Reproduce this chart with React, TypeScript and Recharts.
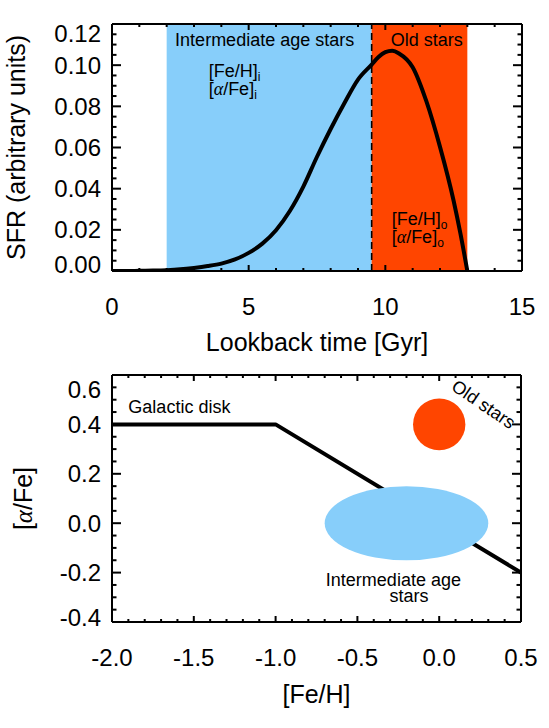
import React from "react"
import {
  ComposedChart,
  Line,
  XAxis,
  YAxis,
  ReferenceArea,
  ReferenceLine,
  ReferenceDot,
  Label,
} from "recharts"

const FONT = "'Liberation Sans', Arial, Helvetica, sans-serif"
const GREEK = "'Liberation Serif', 'DejaVu Serif', serif"
const SKY = "#87CEFA"
const ORANGE = "#FF4500"

// ---- top panel: star formation history ----
const lookback = [0, 0.5, 1, 1.5, 2, 2.5, 3, 3.5, 4, 4.5, 5, 5.5, 6, 6.5, 7, 7.5, 8, 8.5, 9, 9.5, 9.75, 10, 10.25, 10.5, 11, 11.5, 12, 12.5, 12.75, 13]
const sfr = [0, 0, 0.0001, 0.0002, 0.0004, 0.0008, 0.0015, 0.0024, 0.0036, 0.0056, 0.0088, 0.0133, 0.0198, 0.029, 0.041, 0.0555, 0.069, 0.0815, 0.093, 0.1003, 0.104, 0.1063, 0.107, 0.1057, 0.099, 0.0825, 0.0603, 0.034, 0.018, 0]

const intermediateAge = [2, 9.5]
const oldAge = [9.5, 13]

const timeMajor = [0, 5, 10, 15]
const timeTicks = [0, 1, 2, 3, 4, 5, 6, 7, 8, 9, 10, 11, 12, 13, 14, 15]
const sfrMajor = [0, 0.02, 0.04, 0.06, 0.08, 0.1, 0.12]
const sfrTicks = [0, 0.005, 0.01, 0.015, 0.02, 0.025, 0.03, 0.035, 0.04, 0.045, 0.05, 0.055, 0.06, 0.065, 0.07, 0.075, 0.08, 0.085, 0.09, 0.095, 0.1, 0.105, 0.11, 0.115, 0.12]

// ---- bottom panel: chemical track ----
const feH = [-2.0, -1.0, 0.5]
const alphaFe = [0.4, 0.4, -0.2]

// populations: centre and half widths in [Fe/H] / [alpha/Fe]
const oldStars = { fe: 0, alpha: 0.4, dFe: 0.16, dAlpha: 0.105 }
const midStars = { fe: -0.2, alpha: 0, dFe: 0.5, dAlpha: 0.15 }

const feMajor = [-2, -1.5, -1, -0.5, 0, 0.5]
const feTicks = [-2, -1.9, -1.8, -1.7, -1.6, -1.5, -1.4, -1.3, -1.2, -1.1, -1, -0.9, -0.8, -0.7, -0.6, -0.5, -0.4, -0.3, -0.2, -0.1, 0, 0.1, 0.2, 0.3, 0.4, 0.5]
const alphaMajor = [-0.4, -0.2, 0, 0.2, 0.4, 0.6]
const alphaTicks = [-0.4, -0.35, -0.3, -0.25, -0.2, -0.15, -0.1, -0.05, 0, 0.05, 0.1, 0.15, 0.2, 0.25, 0.3, 0.35, 0.4, 0.45, 0.5, 0.55, 0.6]

const sfrData = lookback.map((t, i) => ({ t, sfr: sfr[i] }))
const trackData = feH.map((fe, i) => ({ fe, alpha: alphaFe[i] }))

const isMajor = (majors: number[], v: number) => majors.some((m) => Math.abs(m - v) < 1e-9)

// tick labels only (marks are drawn as reference segments)
const makeLabel =
  (side: "bottom" | "left", majors: number[], digits: number, shift: Record<string, number> = {}) =>
  (p: any) => {
    const v = p.payload.value
    if (!isMajor(majors, v)) return <g />
    const s = v.toFixed(digits)
    const x = Number(p.x)
    const y = Number(p.y)
    if (side === "bottom")
      return (
        <text x={x} y={y + 44} textAnchor="middle" fontSize={24} fontFamily={FONT} fill="#000">
          {s}
        </text>
      )
    return (
      <text x={x - 11} y={y + (shift[s] || 0)} dy="0.36em" textAnchor="end" fontSize={24} fontFamily={FONT} fill="#000">
        {s}
      </text>
    )
  }

const xTitle = (text: React.ReactNode, fromBottom: number) => (p: any) => {
  const vb = p.viewBox
  return (
    <text x={vb.x + vb.width / 2} y={vb.y + vb.height - fromBottom} textAnchor="middle" fontSize={25} fontFamily={FONT} fill="#000">
      {text}
    </text>
  )
}

const yTitle = (text: React.ReactNode, baseX: number) => (p: any) => {
  const vb = p.viewBox
  const cy = vb.y + vb.height / 2
  return (
    <text x={baseX} y={cy} transform={`rotate(-90, ${baseX}, ${cy})`} textAnchor="middle" fontSize={25} fontFamily={FONT} fill="#000">
      {text}
    </text>
  )
}

// text placed relative to the label's viewBox origin
const note =
  (lines: React.ReactNode[], dx: number, dy: number, anchor: string = "start", angle = 0, gap = 18) =>
  (p: any) => {
    const vb = p.viewBox
    const x = vb.x + dx
    const y = vb.y + dy
    return (
      <g transform={angle ? `rotate(${angle}, ${x}, ${y})` : undefined}>
        {lines.map((ln, i) => (
          <text key={i} x={x} y={y + i * gap} textAnchor={anchor as any} fontSize={18} fontFamily={FONT} fill="#000">
            {ln}
          </text>
        ))}
      </g>
    )
  }

const ellipseShape = (fill: string) => (p: any) => (
  <ellipse cx={p.x + p.width / 2} cy={p.y + p.height / 2} rx={p.width / 2} ry={p.height / 2} fill={fill} />
)

const alpha = <tspan fontFamily={GREEK} fontStyle="italic">α</tspan>
const sub = (s: string) => (
  <tspan fontSize={12} dy={4}>
    {s}
  </tspan>
)

const box = { stroke: "#000", strokeWidth: 2 }

type FrameProps = {
  width: number
  height: number
  data: any[]
  xKey: string
  yKey: string
  xDomain: number[]
  yDomain: number[]
  xTicks: number[]
  xMajor: number[]
  yTicks: number[]
  yMajor: number[]
  xDigits: number
  yDigits: number
  yShift: Record<string, number>
  top: number
  bottom: number
  left: number
  right: number
  xLabel: React.ReactNode
  xLabelBottom: number
  yLabel: React.ReactNode
  yLabelX: number
}

// box, inward ticks on all four sides and axis titles, drawn over the data
function Frame(f: FrameProps) {
  const [x0, x1] = f.xDomain
  const [y0, y1] = f.yDomain
  // tick lengths in pixels turned into data units
  const xLen = (v: number) => ((isMajor(f.xMajor, v) ? 6 : 3) * (y1 - y0)) / (f.height - f.top - f.bottom)
  const yLen = (v: number) => ((isMajor(f.yMajor, v) ? 9 : 4.5) * (x1 - x0)) / (f.width - f.left - f.right)
  return (
    <ComposedChart
      width={f.width}
      height={f.height}
      data={f.data}
      margin={{ top: f.top, right: f.right, bottom: 0, left: 0 }}
      style={{ position: "absolute", left: 0, top: 0, pointerEvents: "none" }}
    >
      <XAxis dataKey={f.xKey} type="number" domain={f.xDomain} allowDataOverflow ticks={f.xTicks} interval={0} height={f.bottom} tickSize={0} tickMargin={0} tickLine={false} axisLine={box} tick={makeLabel("bottom", f.xMajor, f.xDigits)}>
        <Label content={xTitle(f.xLabel, f.xLabelBottom)} />
      </XAxis>
      <YAxis type="number" domain={f.yDomain} allowDataOverflow ticks={f.yTicks} interval={0} width={f.left} tickSize={0} tickMargin={0} tickLine={false} axisLine={box} tick={makeLabel("left", f.yMajor, f.yDigits, f.yShift)}>
        <Label content={yTitle(f.yLabel, f.yLabelX)} />
      </YAxis>
      <Line dataKey={f.yKey} stroke="none" dot={false} activeDot={false} isAnimationActive={false} />
      <ReferenceLine segment={[{ x: x0, y: y1 }, { x: x1, y: y1 }]} stroke="#000" strokeWidth={2} ifOverflow="visible" />
      <ReferenceLine segment={[{ x: x1, y: y0 }, { x: x1, y: y1 }]} stroke="#000" strokeWidth={2} ifOverflow="visible" />
      {f.xTicks.map((v) => (
        <ReferenceLine key={`xb${v}`} segment={[{ x: v, y: y0 }, { x: v, y: y0 + xLen(v) }]} stroke="#000" strokeWidth={2} ifOverflow="visible" />
      ))}
      {f.xTicks.map((v) => (
        <ReferenceLine key={`xt${v}`} segment={[{ x: v, y: y1 }, { x: v, y: y1 - xLen(v) }]} stroke="#000" strokeWidth={2} ifOverflow="visible" />
      ))}
      {f.yTicks.map((v) => (
        <ReferenceLine key={`yl${v}`} segment={[{ x: x0, y: v }, { x: x0 + yLen(v), y: v }]} stroke="#000" strokeWidth={2} ifOverflow="visible" />
      ))}
      {f.yTicks.map((v) => (
        <ReferenceLine key={`yr${v}`} segment={[{ x: x1, y: v }, { x: x1 - yLen(v), y: v }]} stroke="#000" strokeWidth={2} ifOverflow="visible" />
      ))}
    </ComposedChart>
  )
}

function SfrPanel() {
  const W = 549
  const H = 360
  return (
    <div style={{ position: "relative", width: W, height: H }}>
      <ComposedChart width={W} height={H} data={sfrData} margin={{ top: 24, right: 27, bottom: 0, left: 0 }} style={{ position: "absolute", left: 0, top: 0 }}>
        <XAxis dataKey="t" type="number" domain={[0, 15]} allowDataOverflow height={89} tick={false} tickLine={false} axisLine={false} />
        <YAxis type="number" domain={[0, 0.12]} allowDataOverflow width={112} tick={false} tickLine={false} axisLine={false} />
        <ReferenceArea
          x1={intermediateAge[0]}
          x2={intermediateAge[1]}
          fill={SKY}
          fillOpacity={1}
          stroke="none"
          label={{
            content: (p: any) => (
              <g>
                {note(["Intermediate age stars"], 98, 22, "middle")(p)}
                {note(
                  [
                    <>[Fe/H]{sub("i")}</>,
                    <>[{alpha}/Fe]{sub("i")}</>,
                  ],
                  42,
                  53
                )(p)}
              </g>
            ),
          }}
        />
        <ReferenceArea
          x1={oldAge[0]}
          x2={oldAge[1]}
          fill={ORANGE}
          fillOpacity={1}
          stroke="none"
          label={{
            content: (p: any) => (
              <g>
                {note(["Old stars"], 55, 22, "middle")(p)}
                {note(
                  [
                    <>[Fe/H]{sub("o")}</>,
                    <>[{alpha}/Fe]{sub("o")}</>,
                  ],
                  20,
                  201
                )(p)}
              </g>
            ),
          }}
        />
        <ReferenceLine x={oldAge[0]} stroke="#000" strokeWidth={1.6} strokeDasharray="7 4" />
        <Line type="monotone" dataKey="sfr" stroke="#000" strokeWidth={4} dot={false} activeDot={false} isAnimationActive={false} />
      </ComposedChart>
      <Frame
        width={W}
        height={H}
        data={sfrData}
        xKey="t"
        yKey="sfr"
        xDomain={[0, 15]}
        yDomain={[0, 0.12]}
        xTicks={timeTicks}
        xMajor={timeMajor}
        yTicks={sfrTicks}
        yMajor={sfrMajor}
        xDigits={0}
        yDigits={2}
        yShift={{ "0.12": 9, "0.00": -7 }}
        top={24}
        bottom={89}
        left={112}
        right={27}
        xLabel="Lookback time [Gyr]"
        xLabelBottom={9}
        yLabel="SFR (arbitrary units)"
        yLabelX={25}
      />
    </div>
  )
}

function TrackPanel() {
  const W = 549
  const H = 368
  return (
    <div style={{ position: "relative", width: W, height: H }}>
      <ComposedChart width={W} height={H} data={trackData} margin={{ top: 15, right: 28, bottom: 0, left: 0 }} style={{ position: "absolute", left: 0, top: 0 }}>
        <XAxis dataKey="fe" type="number" domain={[-2, 0.5]} allowDataOverflow height={106} tick={false} tickLine={false} axisLine={false} />
        <YAxis type="number" domain={[-0.4, 0.6]} allowDataOverflow width={112} tick={false} tickLine={false} axisLine={false} />
        <Line type="linear" dataKey="alpha" stroke="#000" strokeWidth={4} strokeLinejoin="round" dot={false} activeDot={false} isAnimationActive={false} />
        <ReferenceArea
          x1={midStars.fe - midStars.dFe}
          x2={midStars.fe + midStars.dFe}
          y1={midStars.alpha - midStars.dAlpha}
          y2={midStars.alpha + midStars.dAlpha}
          shape={ellipseShape(SKY)}
          zIndex={900}
        />
        <ReferenceArea
          x1={oldStars.fe - oldStars.dFe}
          x2={oldStars.fe + oldStars.dFe}
          y1={oldStars.alpha - oldStars.dAlpha}
          y2={oldStars.alpha + oldStars.dAlpha}
          shape={ellipseShape(ORANGE)}
          zIndex={900}
        />
        <ReferenceDot x={-1.9} y={0.445} r={0} fill="none" stroke="none" label={{ content: note(["Galactic disk"], 0, 0) }} />
        <ReferenceDot x={-0.28} y={-0.255} r={0} fill="none" stroke="none" label={{ content: note(["Intermediate age"], 0, 0, "middle") }} />
        <ReferenceDot x={-0.185} y={-0.32} r={0} fill="none" stroke="none" label={{ content: note(["stars"], 0, 0, "middle") }} />
        <ReferenceDot x={0.25} y={0.485} r={0} fill="none" stroke="none" label={{ content: note(["Old stars"], 0, 6, "middle", 34) }} />
      </ComposedChart>
      <Frame
        width={W}
        height={H}
        data={trackData}
        xKey="fe"
        yKey="alpha"
        xDomain={[-2, 0.5]}
        yDomain={[-0.4, 0.6]}
        xTicks={feTicks}
        xMajor={feMajor}
        yTicks={alphaTicks}
        yMajor={alphaMajor}
        xDigits={1}
        yDigits={1}
        yShift={{ "0.6": 14, "-0.4": -5 }}
        top={15}
        bottom={106}
        left={112}
        right={28}
        xLabel="[Fe/H]"
        xLabelBottom={25}
        yLabel={<>[{alpha}/Fe]</>}
        yLabelX={32}
      />
    </div>
  )
}

export default function App() {
  return (
    <div style={{ position: "absolute", left: 0, top: 0, width: 549, height: 728, background: "#fff" }}>
      <SfrPanel />
      <TrackPanel />
    </div>
  )
}
